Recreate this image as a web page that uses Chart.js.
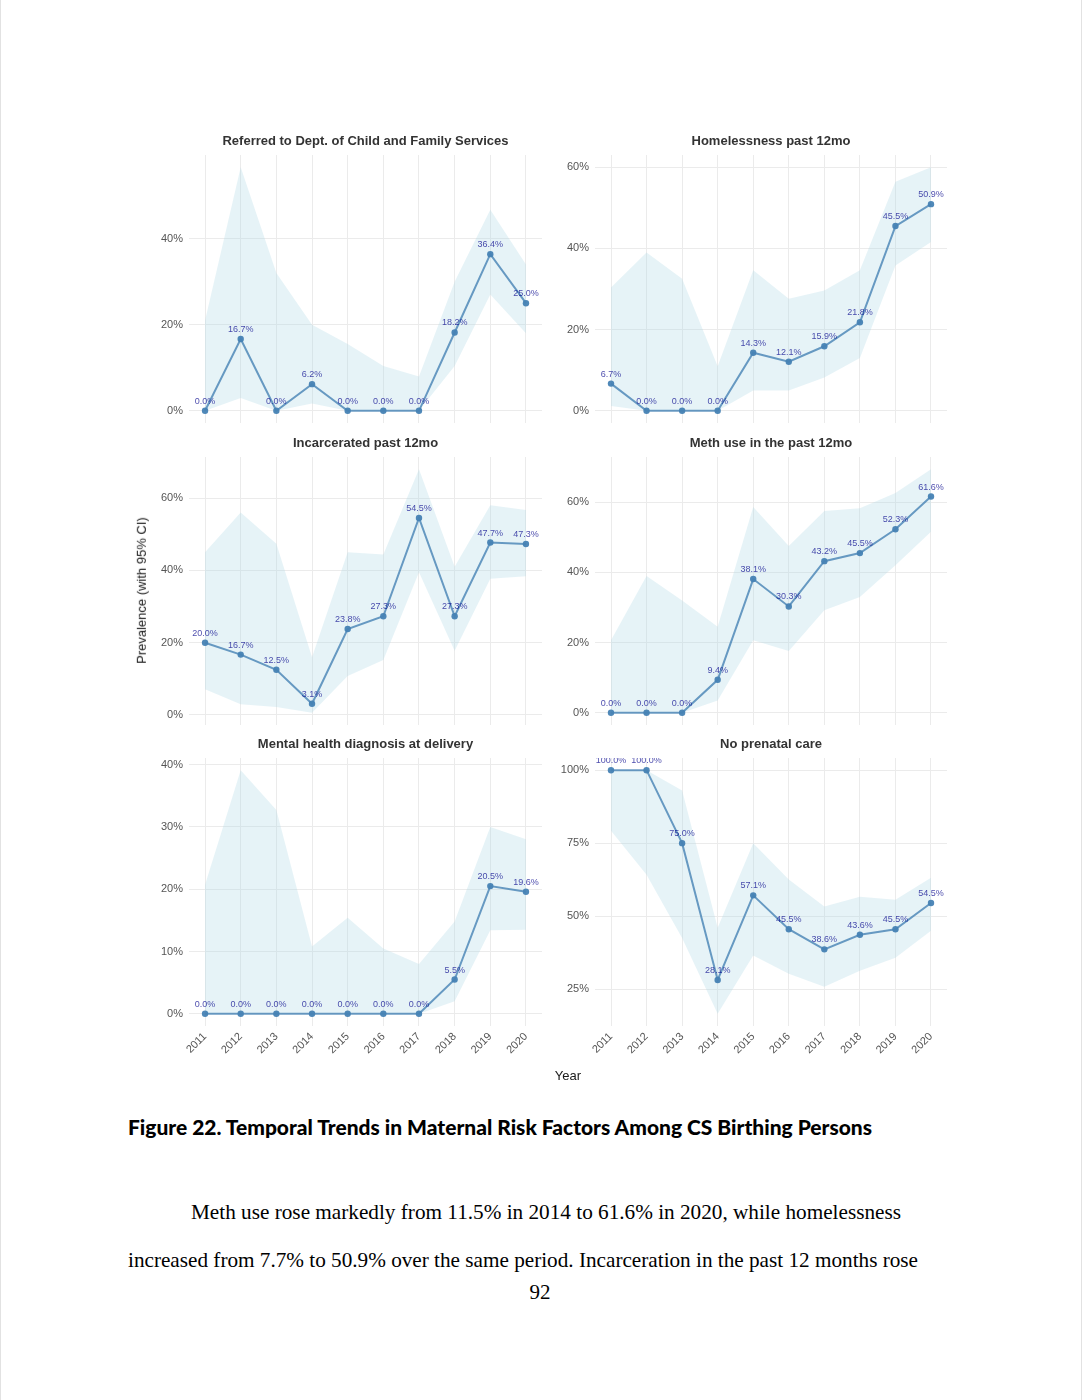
<!DOCTYPE html>
<html><head><meta charset="utf-8">
<script src="https://cdn.jsdelivr.net/npm/chart.js@4.4.1/dist/chart.umd.min.js"></script>
<style>
html,body{margin:0;padding:0;background:#fff;}
body{width:1082px;height:1400px;position:relative;overflow:hidden;font-family:"Liberation Sans",Arial,sans-serif;}
.edge{position:absolute;top:0;height:1400px;width:1px;background:#e2e2e2;}
canvas{position:absolute;}
.txt{position:absolute;white-space:nowrap;line-height:1;}
</style></head><body>
<div class="edge" style="left:0"></div><div class="edge" style="left:1081px"></div>
<div id="panels"></div>
<div class="txt" id="ytitle" style="font-size:13px;color:#1a1a1a;">Prevalence (with 95% CI)</div>
<div class="txt" id="xtitle" style="font-size:13px;color:#1a1a1a;">Year</div>
<div class="txt" id="caption" style="font-family:Lato,'Liberation Sans',sans-serif;font-weight:900;font-size:20px;color:#000;">Figure 22. Temporal Trends in Maternal Risk Factors Among CS Birthing Persons</div>
<div class="txt" id="body1" style="font-family:'Liberation Serif','Times New Roman',serif;font-size:21px;color:#000;">Meth use rose markedly from 11.5% in 2014 to 61.6% in 2020, while homelessness</div>
<div class="txt" id="body2" style="font-family:'Liberation Serif','Times New Roman',serif;font-size:21px;color:#000;">increased from 7.7% to 50.9% over the same period. Incarceration in the past 12 months rose</div>
<div class="txt" id="pagenum" style="font-family:'Liberation Serif','Times New Roman',serif;font-size:21px;color:#000;">92</div>
<script>
// ---------- DATA ----------
const years = [2011, 2012, 2013, 2014, 2015, 2016, 2017, 2018, 2019, 2020];

const panelTitles = [
  "Referred to Dept. of Child and Family Services",
  "Homelessness past 12mo",
  "Incarcerated past 12mo",
  "Meth use in the past 12mo",
  "Mental health diagnosis at delivery",
  "No prenatal care"
];

const referredEst = [0.0, 16.7, 0.0, 6.2, 0.0, 0.0, 0.0, 18.2, 36.4, 25.0];
const referredLo  = [0.0, 3.0, 0.0, 1.7, 0.0, 0.0, 0.0, 10.4, 27.0, 18.0];
const referredHi  = [21.0, 56.6, 32.0, 20.0, 15.5, 10.4, 8.0, 30.0, 46.7, 34.0];

const homelessEst = [6.7, 0.0, 0.0, 0.0, 14.3, 12.1, 15.9, 21.8, 45.5, 50.9];
const homelessLo  = [1.2, 0.0, 0.0, 0.0, 5.0, 5.0, 8.2, 13.0, 35.8, 41.6];
const homelessHi  = [30.4, 39.0, 32.5, 11.0, 34.6, 27.6, 29.6, 34.6, 56.4, 60.0];

const incarcEst = [20.0, 16.7, 12.5, 3.1, 23.8, 27.3, 54.5, 27.3, 47.7, 47.3];
const incarcLo  = [7.1, 3.0, 2.2, 0.6, 10.8, 15.2, 39.5, 17.8, 37.7, 38.4];
const incarcHi  = [45.0, 56.0, 47.4, 16.0, 45.0, 44.4, 68.0, 41.0, 58.0, 56.7];

const methEst = [0.0, 0.0, 0.0, 9.4, 38.1, 30.3, 43.2, 45.5, 52.3, 61.6];
const methLo  = [0.0, 0.0, 0.0, 3.5, 20.7, 17.6, 29.2, 33.0, 42.0, 51.6];
const methHi  = [20.7, 39.0, 32.0, 24.5, 58.6, 47.5, 57.5, 58.3, 62.6, 69.4];

const mentalEst = [0.0, 0.0, 0.0, 0.0, 0.0, 0.0, 0.0, 5.5, 20.5, 19.6];
const mentalLo  = [0.0, 0.0, 0.0, 0.0, 0.0, 0.0, 0.0, 2.0, 13.4, 13.5];
const mentalHi  = [20.7, 39.1, 32.7, 10.8, 15.4, 10.5, 8.0, 14.8, 30.0, 28.0];

const prenatalEst = [100.0, 100.0, 75.0, 28.1, 57.1, 45.5, 38.6, 43.6, 45.5, 54.5];
const prenatalLo  = [79.2, 64.2, 42.5, 16.5, 36.5, 30.2, 25.8, 31.3, 35.7, 45.0];
const prenatalHi  = [100.0, 100.0, 93.0, 46.0, 75.0, 62.5, 53.3, 56.6, 55.6, 63.1];

const yTickSteps = [20, 20, 20, 20, 10, 25];

// ---------- LAYOUT ----------
const colLeft = [189, 595];
const colWidth = [353, 352];
const rowTop = [155, 457, 758];
const areaH = 268;
const YW = 60, TH = 26, RP = 20;

const series = [
  [referredEst, referredLo, referredHi],
  [homelessEst, homelessLo, homelessHi],
  [incarcEst, incarcLo, incarcHi],
  [methEst, methLo, methHi],
  [mentalEst, mentalLo, mentalHi],
  [prenatalEst, prenatalLo, prenatalHi]
];

const FONT = '"Liberation Sans", Arial, sans-serif';
Chart.defaults.font.family = FONT;

const valueLabels = {
  id: 'valueLabels',
  afterDatasetsDraw(chart) {
    const meta = chart.getDatasetMeta(0);
    const ctx = chart.ctx, a = chart.chartArea;
    ctx.save();
    ctx.beginPath();
    ctx.rect(a.left, a.top, a.right - a.left, a.bottom - a.top);
    ctx.clip();
    ctx.font = '9px ' + FONT;
    ctx.fillStyle = 'rgba(0,0,139,0.72)';
    ctx.textAlign = 'center';
    ctx.textBaseline = 'middle';
    meta.data.forEach((pt, i) => {
      const v = chart.data.datasets[0].data[i].y;
      ctx.fillText(v.toFixed(1) + '%', pt.x, pt.y - 9.5);
    });
    ctx.restore();
  }
};

const xMin = Math.min(...years), xMax = Math.max(...years);
const xPad = (xMax - xMin) * 0.05;

const holder = document.getElementById('panels');
series.forEach((s, k) => {
  const col = k % 2, row = Math.floor(k / 2);
  const bottom = row === 2;
  const XH = bottom ? 50 : 20;
  const cv = document.createElement('canvas');
  const w = YW + colWidth[col] + RP, h = TH + areaH + XH;
  cv.width = w; cv.height = h;
  cv.style.width = w + 'px'; cv.style.height = h + 'px';
  cv.style.left = (colLeft[col] - YW) + 'px';
  cv.style.top = (rowTop[row] - TH) + 'px';
  holder.appendChild(cv);

  const [est, lo, hi] = s;
  const yLo = Math.min(...lo), yHi = Math.max(...hi);
  const yPad = (yHi - yLo) * 0.05;
  const pts = arr => years.map((yr, i) => ({x: yr, y: arr[i]}));
  const gridCol = '#ebebeb';

  new Chart(cv, {
    type: 'line',
    data: {
      datasets: [
        {data: pts(est), borderColor: 'rgba(70,130,180,0.8)', borderWidth: 2,
         pointRadius: 3.2, pointBackgroundColor: 'rgba(70,130,180,0.95)', pointBorderWidth: 0,
         tension: 0, fill: false},
        {data: pts(lo), borderWidth: 0, borderColor: 'rgba(0,0,0,0)', pointRadius: 0, fill: false, tension: 0},
        {data: pts(hi), borderWidth: 0, borderColor: 'rgba(0,0,0,0)', pointRadius: 0, tension: 0,
         fill: '-1', backgroundColor: 'rgba(173,216,230,0.3)'}
      ]
    },
    options: {
      responsive: false, animation: false, devicePixelRatio: 1,
      layout: {padding: {left: 0, top: 0, bottom: 0, right: RP}},
      plugins: {
        legend: {display: false}, tooltip: {enabled: false},
        title: {display: true, text: panelTitles[k], fullSize: false, color: '#333',
                font: {size: 13, weight: 'bold', lineHeight: 1.2}, padding: {top: 4.4, bottom: 6}}
      },
      scales: {
        x: {
          type: 'linear', min: xMin - xPad, max: xMax + xPad,
          afterFit(sc) { sc.height = XH; },
          grid: {color: gridCol, lineWidth: 1, drawTicks: false},
          border: {display: false},
          ticks: {display: bottom, stepSize: 1, includeBounds: false, autoSkip: false,
                  maxRotation: 45, minRotation: 45, color: '#555', font: {size: 11}, padding: 4,
                  callback: v => String(v)}
        },
        y: {
          min: yLo - yPad, max: yHi + yPad,
          afterFit(sc) { sc.width = YW; },
          grid: {color: gridCol, lineWidth: 1, drawTicks: false},
          border: {display: false},
          ticks: {stepSize: yTickSteps[k], includeBounds: false, color: '#555', font: {size: 11}, padding: 6,
                  callback: v => v + '%'}
        }
      }
    },
    plugins: [valueLabels]
  });
});

// ---------- TEXT PLACEMENT ----------
function placeCenter(id, cx, cy) {
  const el = document.getElementById(id);
  const r = el.getBoundingClientRect();
  el.style.left = (cx - r.width / 2) + 'px';
  el.style.top = (cy - r.height / 2) + 'px';
}
function placeFit(id, left, right, cy) {
  const el = document.getElementById(id);
  const r = el.getBoundingClientRect();
  el.style.left = left + 'px';
  el.style.top = (cy - r.height / 2) + 'px';
  el.style.transformOrigin = 'left center';
  el.style.transform = 'scaleX(' + ((right - left) / r.width) + ')';
}
placeCenter('xtitle', 568, 1075);
(function () {
  const el = document.getElementById('ytitle');
  const r = el.getBoundingClientRect();
  el.style.left = (141 - r.width / 2) + 'px';
  el.style.top = (590 - r.height / 2) + 'px';
  el.style.transform = 'rotate(-90deg)';
})();
placeFit('caption', 128, 872, 1127);
placeFit('body1', 191, 901, 1212);
placeFit('body2', 128, 918, 1260);
placeCenter('pagenum', 540, 1292);
</script>
</body></html>
